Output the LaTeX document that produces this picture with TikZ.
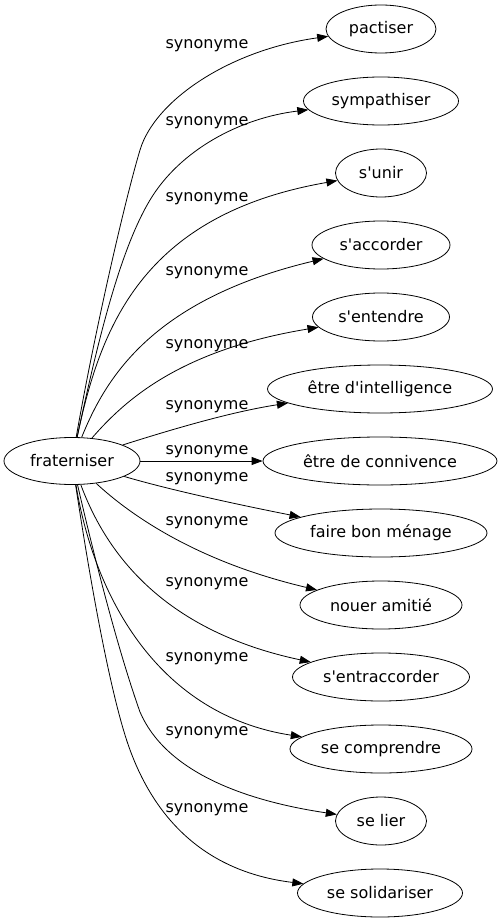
\documentclass[tikz,border=0pt]{standalone}
\usepackage{fontspec}
\newfontfamily\dejavu{DejaVu Sans}
\usetikzlibrary{arrows.meta,shapes.geometric}
\begin{document}
\begin{tikzpicture}[x=1pt,y=-1pt,
  box/.style={draw, ellipse, line width=0.8pt, inner sep=0pt, minimum height=48pt,
    font=\dejavu\fontsize{16}{19}\selectfont},
  lbl/.style={font=\dejavu\fontsize{16}{19}\selectfont, inner sep=0pt},
  conn/.style={draw, line width=0.8pt, -{Triangle[length=11pt,width=8pt]}}]
\useasboundingbox (0,0) rectangle (502,923);

\node[box, minimum width=136pt, minimum height=47pt] (fr) at (72,461) {fraterniser};

\node[box, minimum width=110pt] (t1) at (381,29) {pactiser};
\node[box, minimum width=155pt] (t2) at (381,101) {sympathiser};
\node[box, minimum width=91pt] (t3) at (381,173) {s'unir};
\node[box, minimum width=138pt] (t4) at (381,245) {s'accorder};
\node[box, minimum width=137pt] (t5) at (381,317) {s'entendre};
\node[box, minimum width=225pt] (t6) at (380,389) {être d'intelligence};
\node[box, minimum width=234pt] (t7) at (380,461) {être de connivence};
\node[box, minimum width=212pt] (t8) at (381,533) {faire bon ménage};
\node[box, minimum width=162pt] (t9) at (381,605) {nouer amitié};
\node[box, minimum width=177pt] (t10) at (381,677) {s'entraccorder};
\node[box, minimum width=182pt] (t11) at (381,749) {se comprendre};
\node[box, minimum width=91pt] (t12) at (381,821) {se lier};
\node[box, minimum width=165pt] (t13) at (380,893) {se solidariser};

\draw[conn] (fr) .. controls (95,330) and (125,200) .. (140,150) .. controls (155,100) and (230,50) .. (t1);
\draw[conn] (fr) .. controls (98,340) and (120,250) .. (150,200) .. controls (180,150) and (240,118) .. (t2);
\draw[conn] (fr) .. controls (100,330) and (140,215) .. (t3);
\draw[conn] (fr) .. controls (105,380) and (150,300) .. (t4);
\draw[conn] (fr) .. controls (125,400) and (180,350) .. (t5);
\draw[conn] (fr) .. controls (170,430) and (230,412) .. (t6);
\draw[conn] (fr) -- (t7);
\draw[conn] (fr) .. controls (170,490) and (240,505) .. (t8);
\draw[conn] (fr) .. controls (125,510) and (190,560) .. (t9);
\draw[conn] (fr) .. controls (105,550) and (160,630) .. (t10);
\draw[conn] (fr) .. controls (95,600) and (160,715) .. (t11);
\draw[conn] (fr) .. controls (95,560) and (118,650) .. (140,712) .. controls (165,770) and (240,800) .. (t12);
\draw[conn] (fr) .. controls (90,580) and (108,680) .. (125,735) .. controls (145,800) and (190,870) .. (t13);

\node[lbl] (l1) at (207,45.5) {synonyme};
\node[lbl] (l2) at (207,123) {synonyme};
\node[lbl] (l3) at (207,198.5) {synonyme};
\node[lbl] (l4) at (207,273) {synonyme};
\node[lbl] (l5) at (207,346) {synonyme};
\node[lbl] (l6) at (207,406.5) {synonyme};
\node[lbl] (l7) at (207,451.5) {synonyme};
\node[lbl] (l8) at (207,479) {synonyme};
\node[lbl] (l9) at (207,523) {synonyme};
\node[lbl] (l10) at (207,584) {synonyme};
\node[lbl] (l11) at (207,659) {synonyme};
\node[lbl] (l12) at (207,733) {synonyme};
\node[lbl] (l13) at (207,810) {synonyme};
\end{tikzpicture}
\end{document}
